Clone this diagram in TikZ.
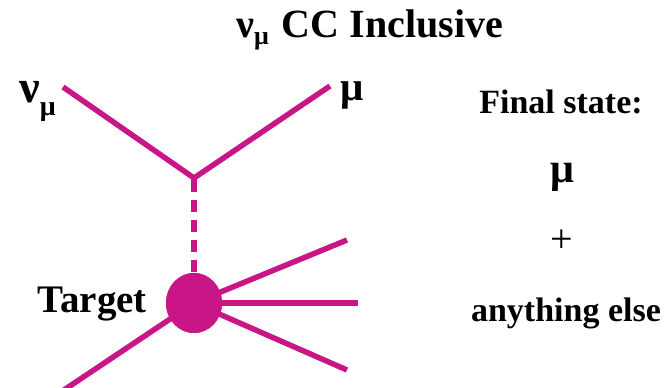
\documentclass[tikz,border=0pt]{standalone}
\usepackage{fontspec}
\setmainfont{Liberation Serif}
\usetikzlibrary{shapes.geometric}
\definecolor{magline}{RGB}{200,22,135}
\newcommand{\fsz}[1]{\fontsize{#1}{#1}\selectfont}

\begin{document}
\begin{tikzpicture}[
    x=1pt, y=-1pt,
    lbl/.style={font=\fsz{34}\bfseries, inner sep=0pt},
    big/.style={font=\fsz{40}\bfseries, inner sep=0pt},
    prop/.style={line width=5.5pt, draw=magline},
    blob/.style={ellipse, fill=magline, minimum width=56pt, minimum height=60pt, inner sep=0pt}]
  \useasboundingbox (0,0) rectangle (670,388);
  \clip (0,0) rectangle (670,388);
  % title and labels
  \node[big, anchor=base west] (title) at (236,37) {{\fsz{40}ν}\raisebox{-8pt}{\fsz{26}μ}\hspace{13pt}CC Inclusive};
  \node[lbl, anchor=base west] (nulbl) at (19,102) {{\fsz{46}ν}\raisebox{-13pt}{\fsz{28}μ}};
  \node[lbl, font=\fsz{41}\bfseries, anchor=base west] (mulbl) at (340,100) {μ};
  \node[big, font=\fsz{39}\bfseries, anchor=base east] (tgtlbl) at (147,312) {Target};
  \node[lbl, anchor=base] (final) at (561,113) {Final state:};
  \node[lbl, font=\fsz{42}\bfseries, anchor=base] (fmu) at (562,182) {μ};
  \node[lbl, font=\fsz{40}] (plus) at (562,241) {+};
  \node[lbl, anchor=base] (else) at (566,321) {anything else};
  % vertices and line ends
  \coordinate (vtx) at (194,178);
  \coordinate (stub) at (194,192);
  \coordinate (nuin) at (63,87);
  \coordinate (muout) at (330,86);
  \coordinate (hup) at (347,240);
  \coordinate (hmid) at (358,303);
  \coordinate (hlow) at (347,370);
  \coordinate (tgtin) at (55,396);
  \node[blob] (tgt) at (194,303) {};
  % lines
  \draw[prop] (nuin) -- (vtx) -- (muout);
  \draw[prop] (vtx) -- (stub);
  \draw[prop, dash pattern=on 12pt off 8pt, dash phase=12pt] (stub) -- (tgt.north);
  \foreach \e in {hup, hmid, hlow, tgtin}
    \draw[prop] (tgt.center) -- (\e);
  \node[blob] at (tgt) {};
\end{tikzpicture}
\end{document}
